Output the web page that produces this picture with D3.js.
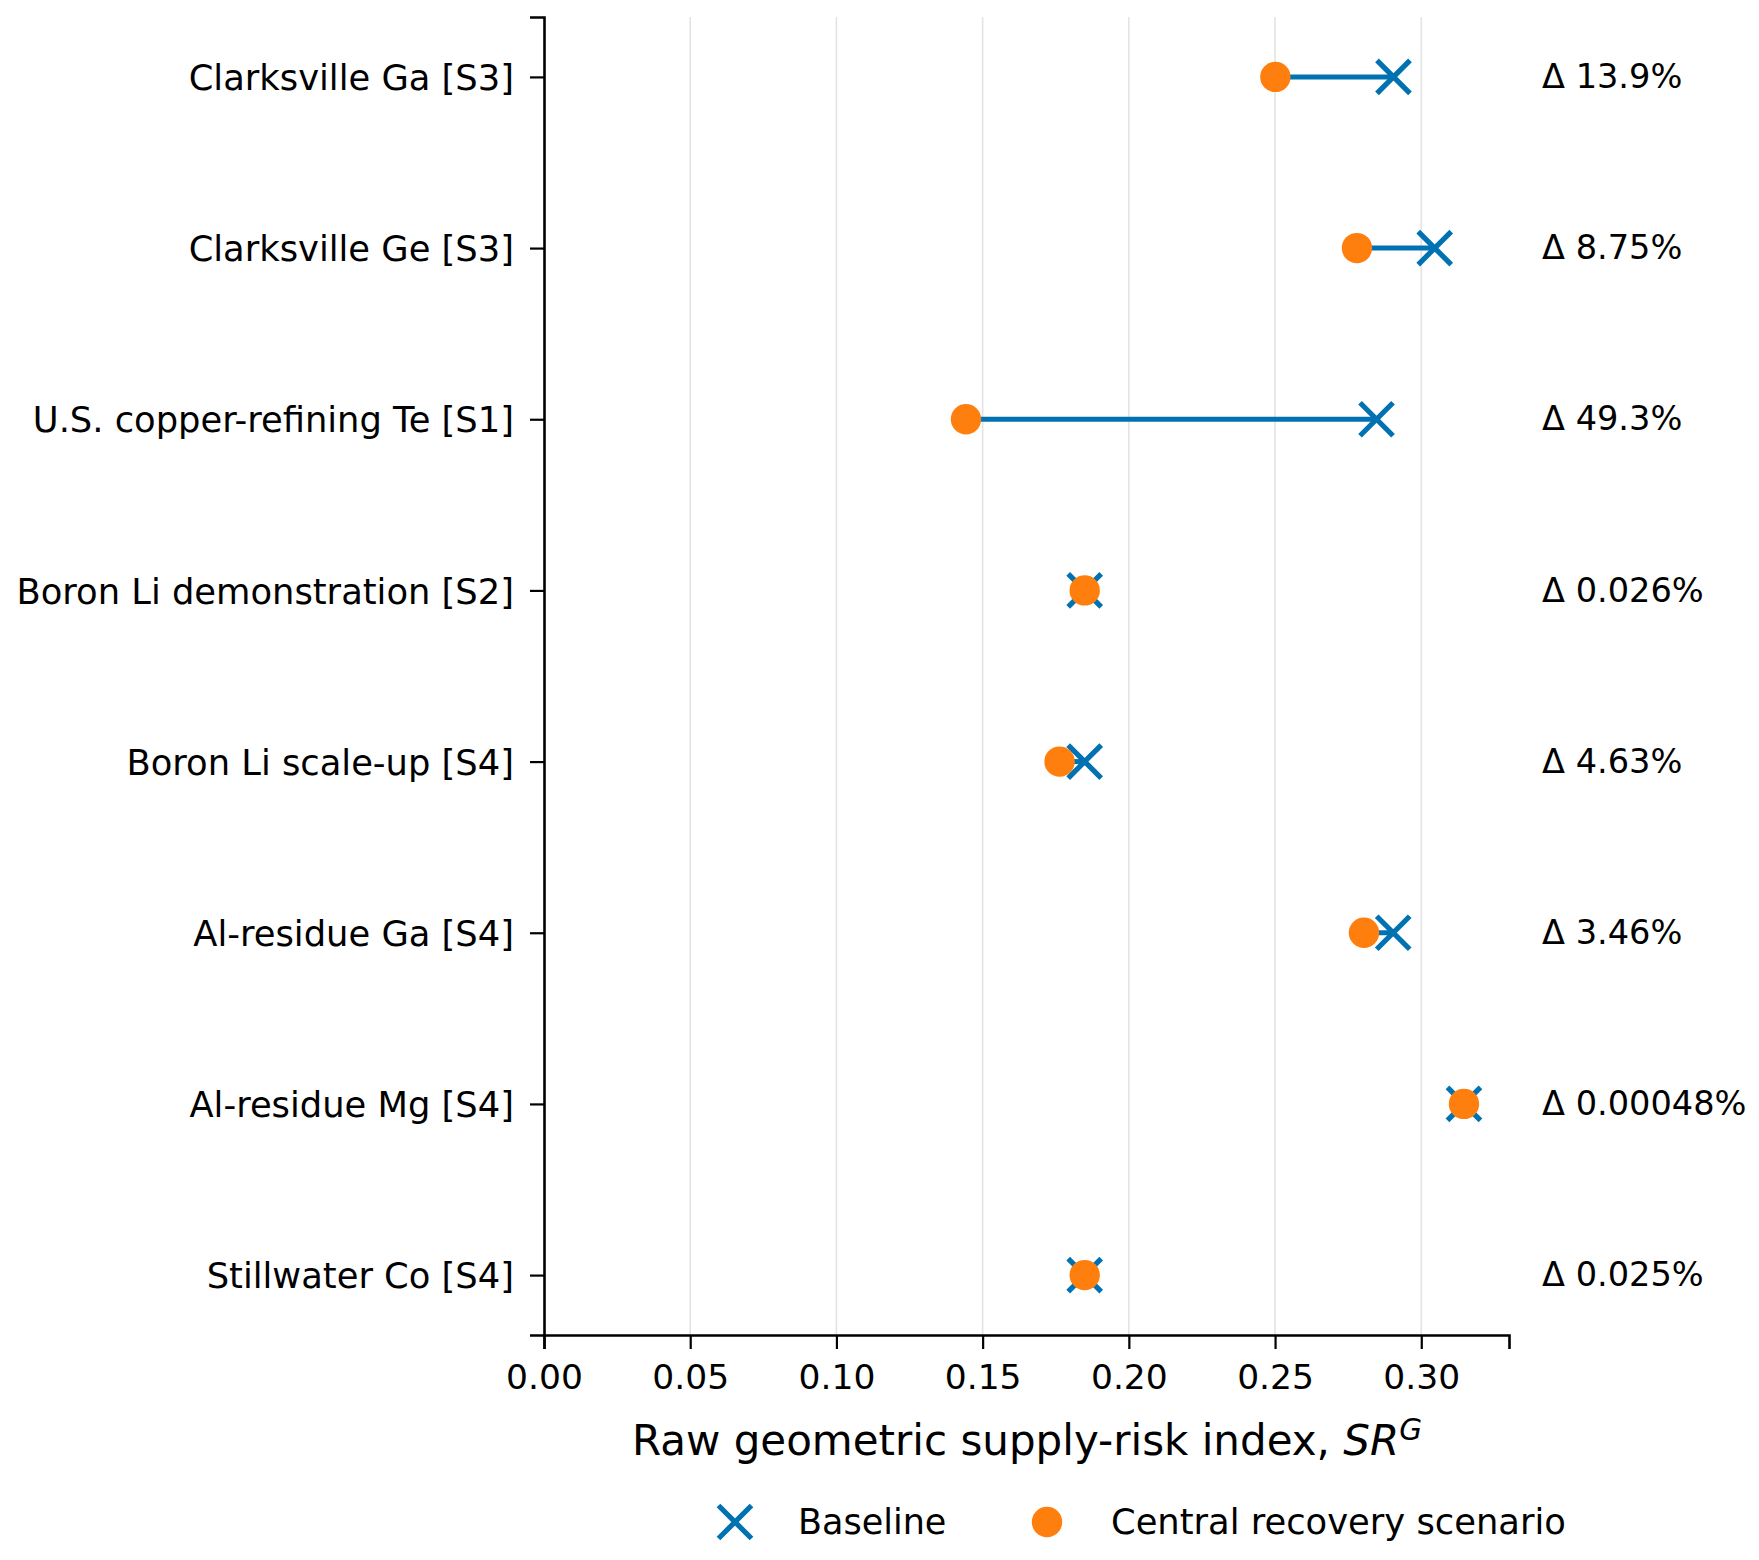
<!DOCTYPE html>
<html><head><meta charset="utf-8">
<script src="https://cdn.jsdelivr.net/npm/d3@7"></script>
<style>body{margin:0;background:#fff} text{font-family:"DejaVu Sans",sans-serif;fill:#000}</style>
</head><body>
<svg id="c" width="1759" height="1560"></svg>
<script>
const categories = ["Clarksville Ga [S3]","Clarksville Ge [S3]","U.S. copper-refining Te [S1]","Boron Li demonstration [S2]","Boron Li scale-up [S4]","Al-residue Ga [S4]","Al-residue Mg [S4]","Stillwater Co [S4]"];
const baseline = [0.2905,0.3046,0.2847,0.1849,0.1849,0.2904,0.3146,0.1849];
const central  = [0.2501,0.2780,0.1443,0.1849,0.1763,0.2804,0.3146,0.1849];
const deltaLabels = ["Δ 13.9%","Δ 8.75%","Δ 49.3%","Δ 0.026%","Δ 4.63%","Δ 3.46%","Δ 0.00048%","Δ 0.025%"];
const xTicks = [0,0.05,0.10,0.15,0.20,0.25,0.30];
const seriesNames = ["Baseline","Central recovery scenario"];

const BLUE="#0072B2", ORANGE="#FF7F0E";
const svg=d3.select("#c");
const L=544,R=1509,T=17,B=1335;
const x=d3.scaleLinear().domain([0,0.33]).range([L,R]);
const y=d3.scaleLinear().domain([-0.35,categories.length-1+0.35]).range([T,B]);

// grid
svg.append("g").selectAll("line").data(xTicks.slice(1)).join("line")
  .attr("x1",d=>x(d)).attr("x2",d=>x(d)).attr("y1",T).attr("y2",B)
  .attr("stroke","#e3e3e3").attr("stroke-width",1.6);

// x axis
const xa=svg.append("g").attr("transform",`translate(0,${B})`)
  .call(d3.axisBottom(x).tickValues(xTicks).tickFormat(d3.format(".2f")).tickSize(14).tickPadding(16));
xa.select(".domain").attr("stroke","#000").attr("stroke-width",2.6);
xa.selectAll(".tick line").attr("stroke","#000").attr("stroke-width",2.2);
xa.selectAll("text").style("font-size","34.5px").attr("font-family","DejaVu Sans");

// y axis
const ya=svg.append("g").attr("transform",`translate(${L},0)`)
  .call(d3.axisLeft(y).tickValues(d3.range(categories.length)).tickFormat(i=>categories[i]).tickSize(14).tickPadding(16));
ya.select(".domain").attr("stroke","#000").attr("stroke-width",2.6);
ya.selectAll(".tick line").attr("stroke","#000").attr("stroke-width",2.2);
ya.selectAll("text").style("font-size","35.3px").attr("font-family","DejaVu Sans").attr("dy","0.36em");

// connectors
svg.append("g").selectAll("line").data(categories).join("line")
  .attr("x1",(d,i)=>x(central[i])).attr("x2",(d,i)=>x(baseline[i]))
  .attr("y1",(d,i)=>y(i)).attr("y2",(d,i)=>y(i))
  .attr("stroke",BLUE).attr("stroke-width",5);

const xPath=s=>`M${-s},${-s}L${s},${s}M${-s},${s}L${s},${-s}`;
svg.append("g").selectAll("path").data(baseline).join("path")
  .attr("transform",(d,i)=>`translate(${x(d)},${y(i)})`)
  .attr("d",xPath(16.5)).attr("stroke",BLUE).attr("stroke-width",5.2).attr("fill","none");
svg.append("g").selectAll("circle").data(central).join("circle")
  .attr("cx",d=>x(d)).attr("cy",(d,i)=>y(i)).attr("r",15.2).attr("fill",ORANGE);

// delta labels
svg.append("g").selectAll("text").data(deltaLabels).join("text")
  .attr("x",1542).attr("y",(d,i)=>y(i)).attr("dy","0.33em")
  .style("font-size","33.6px").text(d=>d);

// axis label
const lab=svg.append("text").attr("x",1027).attr("y",1455).attr("text-anchor","middle").style("font-size","42px");
lab.append("tspan").text("Raw geometric supply-risk index, ");
lab.append("tspan").attr("font-style","italic").text("SR");
lab.append("tspan").attr("font-style","italic").attr("dy","-15").style("font-size","29.5px").text("G");

// legend
const ly=1522;
svg.append("path").attr("transform",`translate(735,${ly})`).attr("d",xPath(16.5)).attr("stroke",BLUE).attr("stroke-width",5.2).attr("fill","none");
svg.append("text").attr("x",798).attr("y",ly).attr("dy","0.35em").style("font-size","35px").text(seriesNames[0]);
svg.append("circle").attr("cx",1047).attr("cy",ly).attr("r",15.2).attr("fill",ORANGE);
svg.append("text").attr("x",1111).attr("y",ly).attr("dy","0.35em").style("font-size","35.3px").text(seriesNames[1]);
</script>
</body></html>
